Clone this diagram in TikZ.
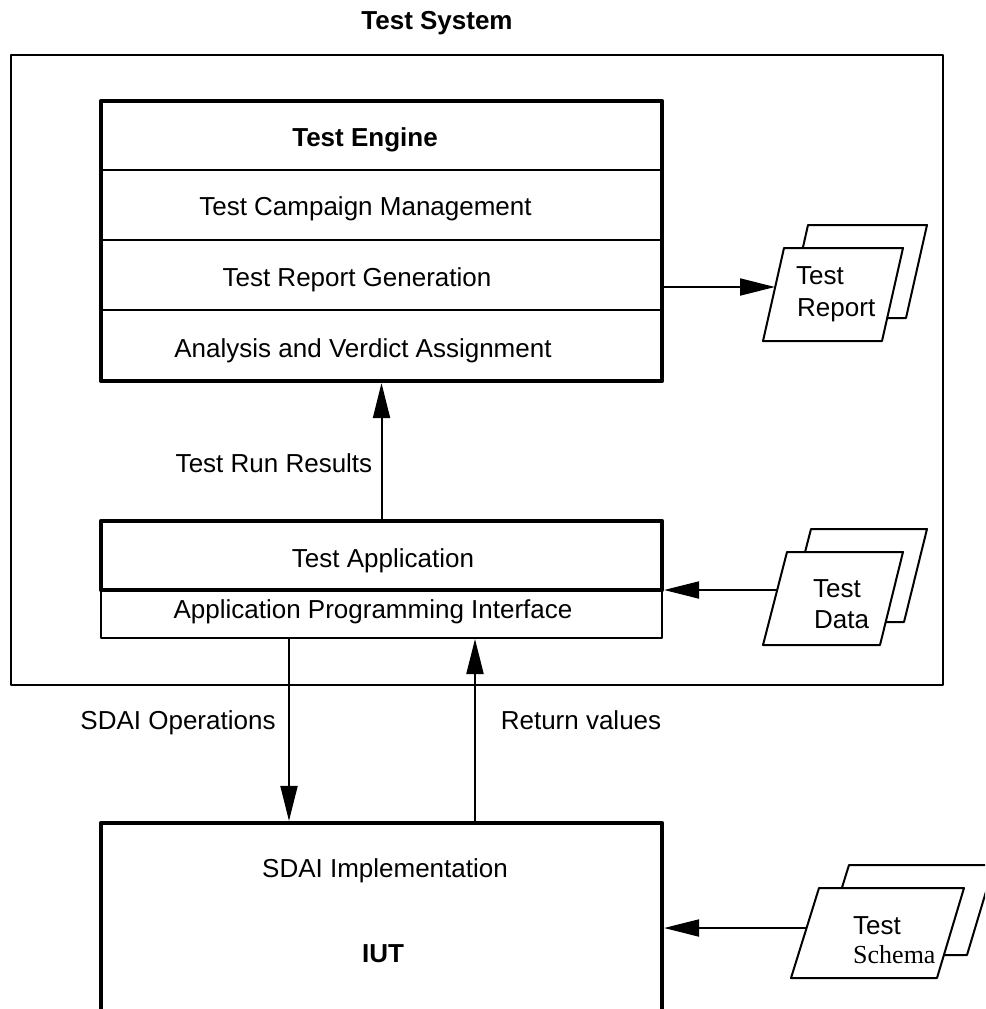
\documentclass[tikz,border=0pt]{standalone}
\usepackage{fontspec}
\setmainfont{Liberation Sans}
\newfontfamily\timesfont{Liberation Serif}
\usetikzlibrary{arrows.meta}
\tikzset{
  thinline/.style={line width=2pt, line join=round},
  thickbox/.style={draw, line width=4.2pt, line join=round, fill=white, inner sep=0pt},
  thinbox/.style={draw, line width=2pt, line join=round, fill=white, inner sep=0pt},
  lbl/.style={font=\fontsize{26}{31}\selectfont, inner sep=0pt, anchor=base},
  lbll/.style={font=\fontsize{26}{31}\selectfont, inner sep=0pt, anchor=base west},
  blbl/.style={font=\fontsize{26}{31}\selectfont\bfseries, inner sep=0pt, anchor=base},
  arr/.style={line width=2pt, -{Triangle[length=35pt,width=17pt]}},
  docshape/.style={line width=2pt, line join=round, fill=white},
}
\begin{document}
\begin{tikzpicture}[x=1pt,y=-1pt]
\useasboundingbox (0,0) rectangle (985,1009);
\begin{scope}
\clip (0,0) rectangle (985,1009);

% title
\node[blbl] (title) at (437,29) {Test System};

% outer test system box
\node[thinbox, fill=none, minimum width=932pt, minimum height=630pt] (system) at (477,370) {};

% Test Engine
\node[thickbox, minimum width=561pt, minimum height=280pt] (engine) at (381.5,241) {};
\draw[thinline] (engine.west |- 0,170) -- (engine.east |- 0,170);
\draw[thinline] (engine.west |- 0,240) -- (engine.east |- 0,240);
\draw[thinline] (engine.west |- 0,310) -- (engine.east |- 0,310);
\node[blbl] (te) at (365,146) {Test Engine};
\node[lbl] (tcm) at (365.5,215) {Test Campaign Management};
\node[lbl] (trg) at (357,286) {Test Report Generation};
\node[lbl] (ava) at (363,357) {Analysis and Verdict Assignment};

% Test Application + API
\node[thinbox, minimum width=561pt, minimum height=48pt] (api) at (381.5,614) {};
\node[thickbox, minimum width=561pt, minimum height=69pt] (ta) at (381.5,555.5) {};
\node[lbl] (tat) at (383,567) {Test Application};
\node[lbl] (apit) at (373,618) {Application Programming Interface};

% IUT
\node[thickbox, minimum width=561pt, minimum height=220pt] (iut) at (381.5,933) {};
\node[lbl] (sdaiimpl) at (385,877) {SDAI Implementation};
\node[blbl] (iutt) at (383,962) {IUT};

% Test Report document
\draw[docshape] (808,225) -- (927,225) -- (906,318) -- (787,318) -- cycle;
\draw[docshape] (784,248) -- (903,248) -- (882,341) -- (763,341) -- cycle;
\coordinate (repin) at (775,287);
\node[lbll] (rep1) at (796,284) {Test};
\node[lbll] (rep2) at (797,316) {Report};

% Test Data document
\draw[docshape] (811,529) -- (927,529) -- (904,622) -- (787,622) -- cycle;
\draw[docshape] (787,552) -- (903,552) -- (880,645) -- (763,645) -- cycle;
\coordinate (datain) at (777,590);
\node[lbll] (dat1) at (813,597) {Test};
\node[lbll] (dat2) at (814,628) {Data};

% Test Schema document
\draw[docshape] (849,865) -- (994,865) -- (967,955) -- (821,955) -- cycle;
\draw[docshape] (819,888) -- (964,888) -- (937,978) -- (791,978) -- cycle;
\coordinate (schin) at (807,928);
\node[lbll] (sch1) at (853,934) {Test};
\node[lbll] (sch2) at (853,963) {\timesfont Schema};

% connectors
\draw[arr] (engine.east |- repin) -- (repin);
\draw[arr] (ta.north) -- (engine.south);
\node[lbl] (trr) at (274,472) {Test Run Results};
\draw[arr] (datain) -- (ta.east |- datain);
\coordinate (opsx) at (289,0);
\coordinate (retx) at (475,0);
\draw[arr] (api.south -| opsx) -- (iut.north -| opsx);
\draw[arr] (iut.north -| retx) -- (api.south -| retx);
\node[lbl] (ops) at (178,729) {SDAI Operations};
\node[lbl] (ret) at (581,729) {Return values};
\draw[arr] (schin) -- (iut.east |- schin);
\end{scope}
\end{tikzpicture}
\end{document}
